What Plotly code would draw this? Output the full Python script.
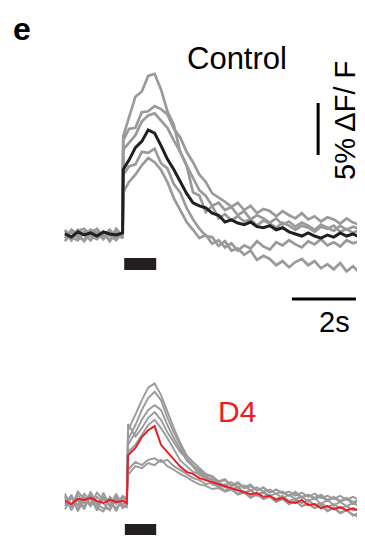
import plotly.graph_objects as go

# ---------------- data (ΔF/F in %, time in s) ----------------
t_ctrl = [0.0, 0.2, 0.4, 0.6, 0.8, 1.0, 1.2, 1.4, 1.6, 1.8, 1.82,
          2.0, 2.2, 2.4, 2.6, 2.8, 3.0, 3.2, 3.4, 3.6, 3.8, 4.0, 4.2, 4.4, 4.6, 4.8,
          5.0, 5.2, 5.4, 5.6, 5.8, 6.0, 6.2, 6.4, 6.6, 6.8, 7.0, 7.2, 7.4, 7.6, 7.8,
          8.0, 8.2, 8.4, 8.6, 8.8, 9.0, 9.2]

ctrl_gray1 = [0.4, -0.3, 0.5, 0.1, -0.5, 0.2, -0.1, 0.5, -0.3, 0.1, 9.5,
              11.4, 13.3, 13.8, 15.3, 15.5, 14.0, 11.9, 10.6, 8.0, 6.7, 4.1, 3.8, 2.2, 2.8,
              1.6, 2.0, 1.4, 1.8, 1.3, 1.5, 0.9, 1.4, 1.1, 0.7, 1.2, 0.9, 0.5, 0.9, 0.7,
              0.3, 0.8, 0.6, 0.9, 0.3, 0.6, 0.2, 0.5]
ctrl_gray2 = [-0.3, 0.5, 0.1, -0.6, 0.2, 0.6, -0.2, 0.0, -0.5, 0.3, 9.1,
              10.2, 10.3, 11.8, 11.9, 12.4, 12.1, 11.6, 10.2, 9.4, 8.0, 7.0, 5.8, 5.1, 4.0,
              3.6, 3.2, 2.7, 3.1, 2.4, 2.8, 2.1, 2.5, 2.3, 1.8, 2.3, 1.9, 1.6, 2.1, 1.5,
              1.8, 1.3, 1.7, 1.5, 1.1, 1.6, 1.2, 1.0]
ctrl_gray3 = [0.5, -0.2, -0.5, 0.3, 0.4, -0.3, 0.1, -0.5, 0.6, -0.1, 8.2,
              8.9, 9.6, 10.9, 11.5, 11.7, 11.0, 10.3, 9.1, 8.0, 6.7, 5.5, 4.3, 3.75, 2.8,
              3.1, 2.4, 2.7, 1.9, 2.3, 1.5, 1.9, 1.6, 1.2, 1.6, 1.0, 1.3, 0.8, 1.2, 0.9,
              0.5, 1.0, 0.7, 0.4, 0.9, 0.5, 0.8, 0.6]
ctrl_gray4 = [-0.6, 0.3, -0.2, -0.5, 0.5, 0.2, -0.4, 0.4, -0.3, 0.1, 5.8,
              6.6, 6.8, 8.0, 7.9, 8.3, 6.9, 6.4, 4.9, 4.1, 2.6, 1.5, 0.6, -0.1, -0.2,
              -1.05, -0.6, -1.5, -1.3, -1.9, -1.5, -2.4, -2.0, -2.3, -2.9, -2.5, -3.1, -2.6, -2.3, -2.9,
              -2.5, -3.2, -2.8, -3.3, -2.7, -3.5, -3.0, -3.6]
ctrl_gray5 = [0.2, -0.5, 0.4, 0.6, -0.1, -0.4, 0.3, -0.6, 0.2, -0.3, 4.1,
              5.1, 5.8, 6.7, 7.4, 7.0, 6.25, 5.1, 3.55, 2.4, 1.25, 0.5, -0.3, 0.0, -0.85,
              -0.5, -1.2, -0.8, -1.5, -1.0, -1.3, -0.6, -1.1, -1.4, -0.7, -1.0, -0.5, -0.9, -1.2, -0.6,
              -0.9, -0.4, -1.0, -0.7, -1.1, -0.5, -0.8, -0.6]
ctrl_mean = [0.1, -0.2, 0.3, 0.0, 0.2, -0.1, 0.3, 0.1, 0.0, 0.2, 6.3,
             7.2, 8.4, 9.0, 10.1, 9.8, 8.6, 7.3, 6.3, 5.2, 4.0, 3.1, 2.8, 2.6, 2.1, 1.9,
             1.25, 1.45, 1.15, 1.0, 1.25, 0.8, 0.7, 0.9, 0.5, 0.7, 0.3, 0.1, -0.1, 0.2, -0.1,
             -0.3, 0.0, -0.2, 0.2, -0.1, 0.1, -0.2]

t_d4 = [0.0, 0.2, 0.4, 0.6, 0.8, 1.0, 1.2, 1.4, 1.6, 1.8, 1.93, 1.97,
        2.2, 2.4, 2.6, 2.8, 3.0, 3.2, 3.4, 3.6, 3.8, 4.0, 4.2, 4.4, 4.6, 4.8,
        5.0, 5.2, 5.4, 5.6, 5.8, 6.0, 6.2, 6.4, 6.6, 6.8, 7.0, 7.2, 7.4, 7.6, 7.8,
        8.0, 8.2, 8.4, 8.6, 8.8, 9.0, 9.2]

d4_gray1 = [0.8, -0.5, 1.0, 0.3, 0.6, -0.8, 0.9, -0.4, 0.5, -0.6, -0.2, 6.9,
            8.4, 9.8, 11.0, 11.4, 10.3, 8.65, 7.1, 5.7, 4.5, 3.85, 3.3, 2.7, 2.5,
            2.0, 2.2, 1.6, 1.9, 1.4, 1.7, 1.1, 1.4, 0.9, 1.2, 0.9, 0.6, 1.0, 0.5, 0.7,
            0.4, 0.7, 0.2, 0.5, 0.1, 0.4, 0.0, 0.2]
d4_gray2 = [-0.4, 0.7, -0.7, 0.5, -0.2, 0.9, 0.2, 0.3, -0.9, 0.4, 0.2, 6.0,
            7.4, 8.85, 10.0, 10.6, 9.8, 8.1, 6.7, 5.4, 4.2, 3.55, 2.9, 2.4, 2.1,
            1.7, 1.4, 1.2, 1.5, 0.9, 1.1, 0.6, 0.9, 0.5, 0.3, 0.6, 0.1, 0.3, -0.1, 0.2,
            -0.3, -0.1, -0.5, -0.2, -0.6, -0.4, -0.8, -0.7]
d4_gray3 = [0.5, -0.8, 0.3, -0.5, 1.0, -0.3, -0.6, -0.7, 0.2, -0.4, -0.5, 5.5,
            6.7, 7.9, 8.85, 9.3, 8.85, 7.4, 6.15, 5.0, 4.0, 3.4, 2.6, 2.3, 1.7,
            1.5, 1.1, 1.3, 0.8, 1.0, 0.5, 0.8, 0.3, 0.5, 0.0, 0.3, -0.2, 0.1, -0.4, -0.2,
            -0.6, -0.3, -0.9, -0.6, -1.1, -0.8, -1.3, -1.0]
d4_gray4 = [-0.7, 0.4, -0.3, 0.8, 0.2, -0.6, -0.9, 0.5, -0.2, 0.6, 0.3, 7.5,
            6.3, 7.1, 8.1, 8.65, 7.9, 6.7, 5.75, 4.8, 4.2, 3.45, 3.1, 2.5, 2.5,
            1.9, 2.1, 1.5, 1.8, 1.3, 1.5, 1.1, 1.4, 0.9, 1.2, 0.8, 1.0, 0.6, 0.9, 0.5,
            0.8, 0.4, 0.6, 0.3, 0.6, 0.2, 0.5, 0.2]
d4_gray5 = [0.3, -0.6, 0.7, -0.1, 0.4, -0.8, 0.5, 0.0, -0.6, 0.2, 0.0, 3.1,
            3.85, 3.55, 4.05, 4.2, 3.85, 4.05, 3.45, 3.1, 2.7, 2.3, 2.1, 1.7, 1.9,
            1.45, 1.7, 1.2, 1.4, 0.9, 1.2, 0.7, 1.0, 0.6, 0.8, 0.4, 0.7, 0.3, 0.5, 0.1,
            0.4, -0.2, 0.2, -0.3, 0.0, -0.4, -0.1, -0.4]
d4_gray6 = [-0.2, 0.6, -0.9, 0.3, -0.4, 0.5, -0.1, -0.8, 0.4, -0.5, -0.3, 2.6,
            3.45, 3.25, 3.75, 3.55, 4.05, 3.45, 3.1, 2.7, 2.4, 2.0, 1.7, 1.55, 1.25,
            1.35, 1.0, 1.2, 0.7, 0.9, 0.4, 0.7, 0.3, 0.5, 0.0, 0.3, -0.2, 0.1, -0.4, -0.1,
            -0.6, -0.3, -0.8, -0.5, -1.0, -0.8, -1.2, -1.45]
d4_gray7 = [0.6, -0.3, 0.2, -0.7, 0.7, -0.2, 0.4, -0.4, 0.8, -0.3, 0.1, 4.8,
            5.5, 6.45, 7.4, 7.9, 7.1, 6.15, 5.0, 4.0, 3.45, 2.9, 2.7, 2.2, 2.3,
            1.85, 1.6, 1.9, 1.4, 1.6, 1.1, 1.4, 1.0, 1.2, 0.8, 1.0, 0.6, 0.8, 0.4, 0.7,
            0.3, 0.5, 0.1, 0.4, 0.0, 0.3, -0.2, 0.1]
d4_mean = [0.1, -0.2, 0.3, 0.2, 0.4, 0.1, -0.1, 0.2, 0.0, 0.1, -0.1, 4.5,
           5.2, 6.25, 6.9, 7.3, 5.5, 4.8, 4.2, 3.4, 2.9, 2.7, 2.3, 2.1, 1.9, 1.7,
           1.55, 1.35, 1.15, 0.95, 0.75, 0.85, 0.5, 0.6, 0.2, 0.4, 0.0, -0.1, 0.2, -0.3, -0.2,
           -0.6, -0.4, -0.7, -0.5, -0.8, -0.6, -0.85]

stim_on, stim_off = 1.85, 2.85          # stimulus bar (s)
scale_dff = 5                            # % ΔF/F scale bar
scale_time = 2                           # s scale bar
scale_x0 = 7.09                          # left end of the time bar (s)
label_ctrl, label_d4 = "Control", "D4"

# ---------------- figure ----------------
# the page body has an 8 px margin, so the figure is drawn 8 px smaller
OFF = 8
W, H = 365 - OFF, 536 - OFF
GRAY, BLACK, RED = "#9a9a9a", "#231f20", "#ed1c24"
FONT = "Liberation Sans, Arial, sans-serif"

fig = go.Figure()
for g in [ctrl_gray1, ctrl_gray2, ctrl_gray3, ctrl_gray4, ctrl_gray5]:
    fig.add_trace(go.Scatter(x=t_ctrl, y=g, mode="lines", yaxis="y",
                             line=dict(color=GRAY, width=2.7), hoverinfo="skip"))
fig.add_trace(go.Scatter(x=t_ctrl, y=ctrl_mean, mode="lines", yaxis="y",
                         line=dict(color=BLACK, width=3), hoverinfo="skip"))
for g in [d4_gray1, d4_gray2, d4_gray3, d4_gray4, d4_gray5, d4_gray6, d4_gray7]:
    fig.add_trace(go.Scatter(x=t_d4, y=g, mode="lines", yaxis="y2",
                             line=dict(color=GRAY, width=1.9), hoverinfo="skip"))
fig.add_trace(go.Scatter(x=t_d4, y=d4_mean, mode="lines", yaxis="y2",
                         line=dict(color=RED, width=2), hoverinfo="skip"))

# scale bars
bar_t = scale_x0 + 0.82
fig.add_trace(go.Scatter(x=[bar_t, bar_t], y=[7.69, 7.69 + scale_dff], mode="lines", yaxis="y",
                         line=dict(color="black", width=3), hoverinfo="skip"))
fig.add_trace(go.Scatter(x=[scale_x0, scale_x0 + scale_time], y=[-6.15, -6.15],
                         mode="lines", yaxis="y",
                         line=dict(color="black", width=3), hoverinfo="skip"))

# stimulus bars
fig.add_shape(type="rect", xref="x", yref="y", x0=stim_on, x1=stim_off, y0=-3.37, y1=-2.21,
              fillcolor=BLACK, line=dict(width=0))
fig.add_shape(type="rect", xref="x", yref="y2", x0=stim_on + 0.02, x1=stim_off, y0=-3.17, y1=-2.12,
              fillcolor=BLACK, line=dict(width=0))

def ann(text, px, py, size, color="black", bold=False, angle=0):
    fig.add_annotation(text=f"<b>{text}</b>" if bold else text,
                       x=(px - OFF) / W, y=1 - (py - OFF) / H, xref="paper", yref="paper",
                       showarrow=False, textangle=angle, xanchor="center", yanchor="middle",
                       font=dict(family=FONT, size=size, color=color))

ann("e", 22, 29, 32, bold=True)
ann(label_ctrl, 237, 59, 31)
ann("5% ΔF/ F", 345, 121, 29, angle=-90)
ann("2s", 334, 322, 29)
ann(label_d4, 237, 411, 30, color=RED)

px_per_s, px_per_pct = 32.0, 10.4
x0_px = 65 - OFF          # pixel of t = 0
base_c = 235 - OFF        # pixel of control baseline
base_d = 502 - OFF        # pixel of D4 baseline
fig.update_layout(
    width=W, height=H, margin=dict(l=0, r=0, t=0, b=0),
    paper_bgcolor="white", plot_bgcolor="white", showlegend=False,
    xaxis=dict(range=[-x0_px / px_per_s, (W - x0_px) / px_per_s], visible=False,
               domain=[0, 1], fixedrange=True),
    yaxis=dict(range=[(base_c - H) / px_per_pct, base_c / px_per_pct], visible=False,
               domain=[0, 1], fixedrange=True),
    yaxis2=dict(range=[(base_d - H) / px_per_pct, base_d / px_per_pct], visible=False,
                domain=[0, 1], overlaying="y", anchor="x", fixedrange=True),
)

fig.write_html("out.html", config={"displayModeBar": False})
